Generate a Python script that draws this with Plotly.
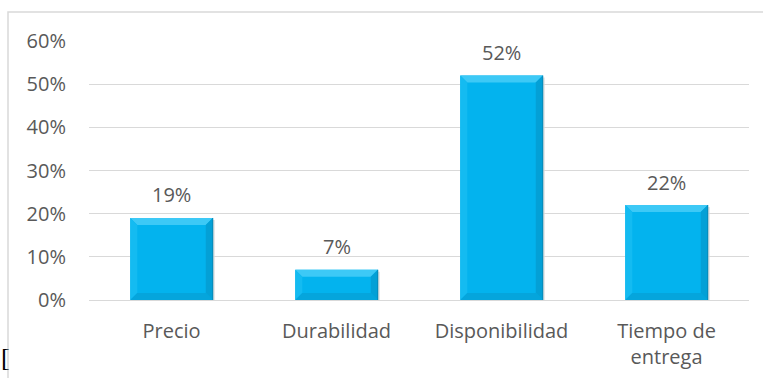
import plotly.graph_objects as go

# Survey results: main reason for choosing the supplier
categories = ["Precio", "Durabilidad", "Disponibilidad", "Tiempo de<br>entrega"]
values = [0.19, 0.07, 0.52, 0.22]
y_ticks = [0, 0.1, 0.2, 0.3, 0.4, 0.5, 0.6]
y_tick_labels = ["0%", "10%", "20%", "30%", "40%", "50%", "60%"]

W, H = 763, 378
L, R, T, B = 89, 14, 41, 78
plot_w = W - L - R
plot_h = H - T - B
y_max = 0.6

FONT = "Open Sans"
TXT = "#595959"
BAR = "#03B3EE"

idx = list(range(len(categories)))
half = 0.25  # half bar width in category units

fig = go.Figure()
fig.add_trace(go.Bar(
    x=idx, y=values, width=2 * half,
    marker=dict(color=BAR, line=dict(width=0)),
    hoverinfo="skip", showlegend=False,
))

# pixel -> data conversions for the bevel edges
bx = 7 / (plot_w / len(categories))
by = 7 / (plot_h / y_max)
sx = 2 / (plot_w / len(categories))
sy = 2 / (plot_h / y_max)

shapes = []
for i, v in zip(idx, values):
    x0, x1 = i - half, i + half
    # soft drop shadow
    shapes.append(dict(type="rect", xref="x", yref="y", layer="below",
                       x0=x0 + sx, x1=x1 + sx, y0=-sy, y1=v - sy,
                       fillcolor="rgba(0,0,0,0.12)", line=dict(width=0)))
    # bevel faces
    faces = [
        (f"M{x0},{v} L{x1},{v} L{x1-bx},{v-by} L{x0+bx},{v-by} Z", "#3DC9F6"),
        (f"M{x0},0 L{x0},{v} L{x0+bx},{v-by} L{x0+bx},{by} Z", "#14BBF1"),
        (f"M{x1},0 L{x1},{v} L{x1-bx},{v-by} L{x1-bx},{by} Z", "#04A0D6"),
        (f"M{x0},0 L{x1},0 L{x1-bx},{by} L{x0+bx},{by} Z", "#05A5DC"),
    ]
    for path, col in faces:
        shapes.append(dict(type="path", xref="x", yref="y", path=path,
                           fillcolor=col, line=dict(width=0), layer="above"))
    # thin darker outline on the right edge
    shapes.append(dict(type="line", xref="x", yref="y", x0=x1, x1=x1, y0=0, y1=v,
                       line=dict(color="#0386B4", width=1), layer="above"))

# chart frame
shapes.append(dict(type="rect", xref="paper", yref="paper",
                   x0=(8 - L) / plot_w, x1=(W + 20 - L) / plot_w,
                   y0=(plot_h + T - (H + 20)) / plot_h, y1=(plot_h + T - 12) / plot_h,
                   line=dict(color="#D9D9D9", width=1.5), fillcolor="rgba(0,0,0,0)",
                   layer="below"))

annotations = []
for i, v in zip(idx, values):
    annotations.append(dict(x=i, y=v, xref="x", yref="y", text=f"{round(v * 100)}%",
                            showarrow=False, yshift=23,
                            font=dict(family=FONT, size=20, color=TXT)))
annotations.append(dict(xref="paper", yref="paper",
                        x=(-1 - L) / plot_w, y=(plot_h + T - 357) / plot_h,
                        xanchor="left", yanchor="middle", text="[",
                        showarrow=False,
                        font=dict(family="Liberation Serif", size=26, color="#000000")))

fig.update_layout(
    width=W, height=H,
    margin=dict(l=L, r=R, t=T, b=B, autoexpand=False),
    paper_bgcolor="white", plot_bgcolor="white",
    bargap=0.5,
    shapes=shapes, annotations=annotations,
    font=dict(family=FONT, size=20, color=TXT),
    xaxis=dict(
        range=[-0.5, len(categories) - 0.5],
        tickmode="array", tickvals=idx, ticktext=categories,
        showgrid=False, zeroline=False, showline=False,
        ticks="", ticklabelstandoff=17, automargin=False,
        tickfont=dict(family=FONT, size=20, color=TXT),
    ),
    yaxis=dict(
        range=[0, y_max],
        tickmode="array", tickvals=y_ticks, ticktext=y_tick_labels,
        showgrid=True, gridcolor="#D9D9D9", gridwidth=1,
        zeroline=True, zerolinecolor="#D9D9D9", zerolinewidth=1,
        showline=False, ticks="", ticklabelstandoff=22, automargin=False,
        tickfont=dict(family=FONT, size=20, color=TXT),
    ),
)

fig.write_html("out.html")
